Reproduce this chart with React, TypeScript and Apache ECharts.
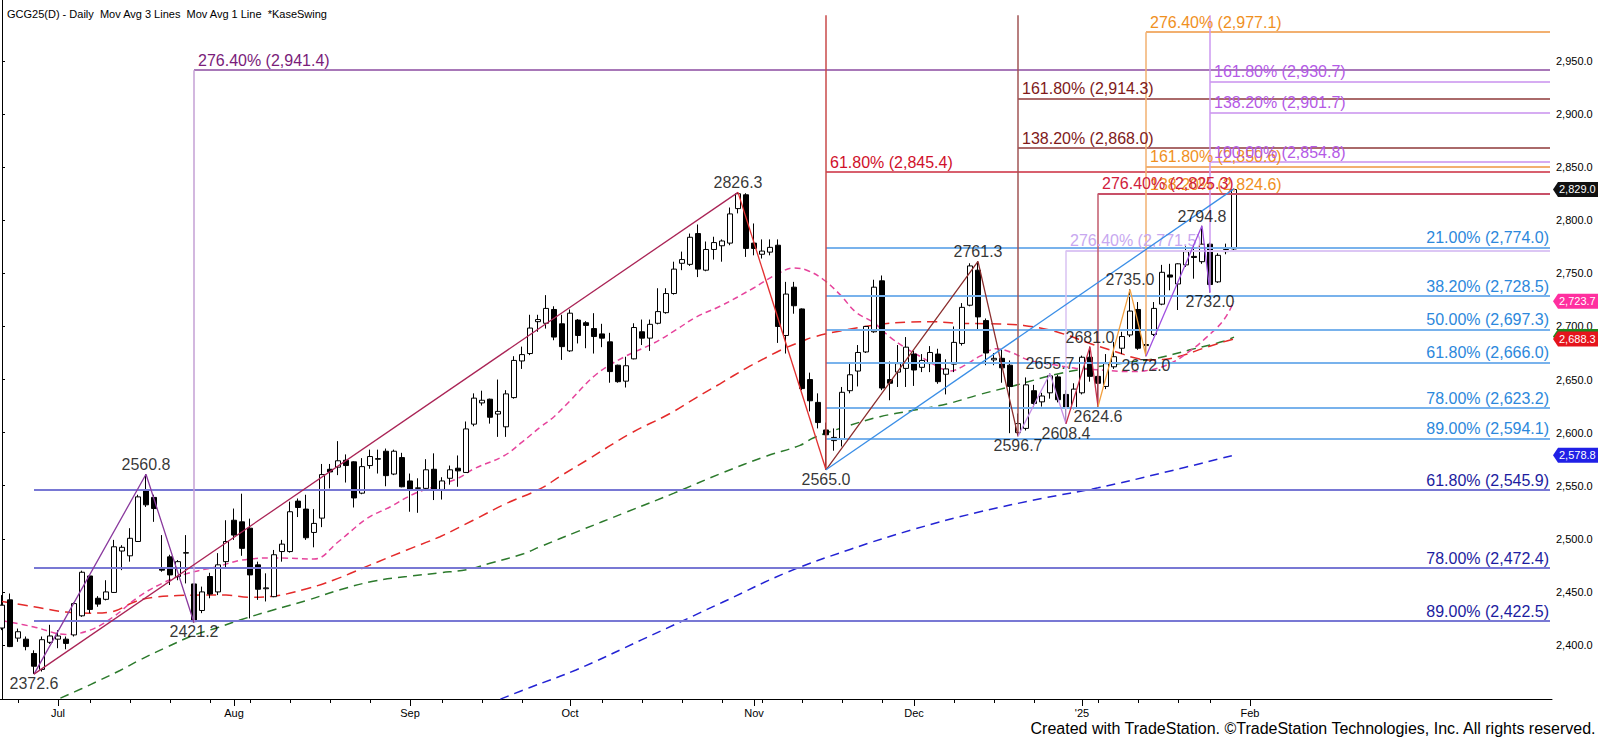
import React, { useEffect, useRef } from "react";
import * as echarts from "echarts";

const FONT = "Arial, 'Liberation Sans', Helvetica, sans-serif";

// ---- axis ticks / labels (bar index of each session, 20 Jun 2024 = 0) ----
const monthTickBars = [7, 29, 51, 71, 94, 114, 135, 156];
const monthTickLabels = ["Jul", "Aug", "Sep", "Oct", "Nov", "Dec", "'25", "Feb"];
const weekTickBars = [2, 11, 16, 21, 26, 31, 36, 41, 46, 55, 60, 65, 75, 80, 85, 90, 95, 100, 105, 110, 119, 124, 129, 137, 142, 147, 151];
const priceTicks = [2400, 2450, 2500, 2550, 2600, 2650, 2700, 2750, 2800, 2850, 2900, 2950];

// ---- daily bars [open, close, low, high] ----
const bars: number[][] = [
  [2416, 2437.5, 2414, 2447], [2442.5, 2398.5, 2398, 2448.5], [2406.5, 2412.5, 2403, 2415.5], [2405.5, 2398.5, 2395, 2408],
  [2392, 2380, 2372.6, 2395], [2377, 2405, 2375, 2408], [2402.5, 2408.5, 2401, 2419], [2405.5, 2408.5, 2397, 2414],
  [2405.5, 2401.5, 2396, 2408], [2409.5, 2439, 2408, 2440], [2427.5, 2468.5, 2426.5, 2470], [2465, 2433.5, 2430, 2466],
  [2444, 2438.5, 2436, 2446], [2443, 2450, 2442, 2461], [2449.5, 2492.5, 2449, 2499], [2488.5, 2492, 2470.5, 2494],
  [2484, 2500.5, 2478.5, 2510], [2497.5, 2539.5, 2497, 2541.5], [2545.5, 2532, 2530, 2560.8], [2539, 2528.5, 2516, 2541.5],
  [2471.5, 2470.5, 2469, 2503.5], [2483, 2466, 2456.5, 2485], [2464.5, 2478.5, 2461, 2480], [2486.5, 2487, 2458, 2503.5],
  [2457.5, 2422, 2421.2, 2458], [2432.5, 2450, 2430, 2455], [2464.5, 2448, 2444, 2468], [2450, 2475.5, 2447, 2486.5],
  [2478.5, 2497.5, 2472, 2517.5], [2517.5, 2503.5, 2499, 2528.5], [2516, 2491, 2484, 2542.5], [2510, 2466, 2425, 2519],
  [2475.5, 2452.5, 2442.5, 2478.5], [2453, 2453.8, 2441, 2467.5], [2445.5, 2485, 2445, 2489.5], [2488, 2495, 2478.5, 2499],
  [2488, 2525.5, 2487, 2535], [2535.5, 2529.5, 2520.5, 2538], [2528, 2501, 2499, 2541.5], [2506, 2514.5, 2492, 2528],
  [2519.5, 2560.5, 2511, 2570.5], [2565.5, 2563, 2547.5, 2570.5], [2567.5, 2573.5, 2560, 2592], [2574, 2569, 2553, 2579.5],
  [2572.5, 2538.5, 2529.5, 2573], [2543, 2568, 2542, 2576], [2569, 2577.5, 2566, 2584], [2575.5, 2575, 2561.5, 2584],
  [2582.5, 2559.5, 2549.5, 2585], [2561, 2582.5, 2560, 2584], [2576.5, 2549, 2548.5, 2581], [2554.5, 2545.5, 2525.5, 2561.5],
  [2547.5, 2548, 2524.5, 2557], [2547.5, 2565, 2546.5, 2575], [2565.5, 2545.5, 2536.5, 2580.5], [2546.5, 2554.5, 2537, 2558],
  [2557, 2565, 2551, 2569], [2566.5, 2564, 2549, 2578.5], [2562.5, 2603.5, 2562, 2610.5], [2608, 2632.5, 2606, 2637],
  [2628, 2630.5, 2625.5, 2639.5], [2631.5, 2614.5, 2608.5, 2632], [2617.5, 2620, 2596, 2650], [2605.5, 2636.5, 2596, 2640],
  [2633, 2668, 2632, 2672], [2667.5, 2673.5, 2660, 2681], [2674.5, 2698.5, 2673, 2711], [2704.5, 2706.5, 2695, 2711],
  [2703, 2717, 2698, 2729.5], [2716, 2690, 2687, 2719], [2702.5, 2681, 2668.5, 2711], [2677, 2712.5, 2676, 2716],
  [2706, 2691.5, 2684, 2707], [2703.5, 2701, 2679.5, 2705], [2698, 2690.5, 2674.5, 2712.5], [2693, 2689, 2680.5, 2702.5],
  [2685.5, 2657.5, 2647, 2694], [2663.5, 2648, 2647, 2664], [2648.5, 2663, 2642.5, 2671.5], [2669.5, 2699, 2669, 2703],
  [2695, 2689, 2682.5, 2706.5], [2689, 2702, 2677, 2706.5], [2703, 2714, 2702, 2736], [2713, 2731, 2712, 2736],
  [2731, 2754, 2730, 2761], [2759.5, 2763, 2753, 2770.5], [2758.5, 2784, 2757, 2787.5], [2787.5, 2754, 2746.5, 2796],
  [2753, 2772.5, 2752, 2780], [2772.5, 2779, 2763, 2784.5], [2776, 2780.5, 2761, 2782], [2778.5, 2806, 2776.5, 2812],
  [2811, 2825, 2806.5, 2826.3], [2824, 2773.5, 2765.5, 2825.5], [2778.5, 2773.5, 2767, 2797], [2768, 2771, 2764, 2782],
  [2770, 2774.5, 2767, 2782], [2776.5, 2700, 2684.5, 2782], [2691.5, 2730.5, 2674.5, 2742], [2737, 2719.5, 2712, 2742],
  [2716.5, 2641.5, 2640, 2717], [2650, 2630, 2620, 2656.5], [2628.5, 2609.5, 2604, 2637], [2602.5, 2598, 2565, 2609.5],
  [2592.5, 2595.5, 2583, 2604], [2594, 2638, 2587, 2643], [2639.5, 2654.5, 2637, 2666.5], [2658, 2675.5, 2643.5, 2682.5],
  [2676, 2700, 2675, 2700.5], [2695, 2737, 2694, 2744], [2743, 2642, 2640, 2748], [2650, 2646.5, 2630.5, 2667],
  [2657, 2665, 2643, 2682.5], [2660.5, 2680.5, 2643, 2690], [2674, 2659, 2644, 2677], [2661.5, 2668, 2657, 2674],
  [2665, 2675.5, 2657, 2681.5], [2674, 2648, 2646, 2679], [2655, 2660, 2636, 2669], [2664.5, 2685, 2657, 2700],
  [2684, 2718, 2682, 2722], [2720, 2757, 2719, 2759.5], [2753, 2709, 2697, 2761.3], [2705.5, 2675, 2663.5, 2707.5],
  [2668.5, 2670, 2663.5, 2675], [2670, 2661, 2647, 2678], [2663.5, 2643.5, 2599.5, 2668], [2600, 2608.5, 2596.7, 2618],
  [2604, 2645, 2602, 2652], [2639.5, 2627.5, 2624, 2645], [2629, 2634.5, 2624.5, 2637.5], [2637.5, 2653.5, 2632, 2655.7],
  [2652.5, 2631, 2628.5, 2654.5], [2636, 2623, 2608.4, 2640], [2623, 2641, 2622, 2646.5], [2637.5, 2671, 2636, 2672.5],
  [2671, 2653, 2648, 2681], [2653, 2646.5, 2624.6, 2660], [2643.5, 2665, 2641, 2674], [2662, 2671.5, 2660, 2685.5],
  [2679.5, 2690.5, 2674, 2695], [2692, 2714.5, 2690, 2735], [2716, 2679.5, 2678, 2723], [2682, 2683, 2672, 2697],
  [2692.5, 2717, 2691, 2723], [2721, 2751, 2720, 2758], [2748.5, 2746.5, 2734, 2759], [2740, 2759, 2715.5, 2759.5],
  [2758, 2770.5, 2756, 2775.5], [2766, 2765, 2745, 2777], [2761, 2777.5, 2759, 2794.8], [2777.5, 2739.5, 2732, 2779],
  [2742, 2767, 2741, 2769], [2770.5, 2772.5, 2768, 2778], [2773, 2829, 2771, 2829.6],
];

// ---- moving averages [bar, value] ----
const ma20 = [
  [0, 2423], [4, 2417], [8, 2410], [11, 2414], [14, 2427], [17, 2445], [20, 2458], [23, 2467], [27, 2474], [30, 2480],
  [34, 2482], [39, 2481], [42, 2497], [45.6, 2519], [48.5, 2530], [51.4, 2542], [54, 2549], [57, 2557], [59, 2566],
  [62.7, 2578], [65, 2591], [67.25, 2605], [69, 2615], [71, 2630], [74.3, 2655], [77.7, 2671], [81.4, 2684], [84.3, 2697],
  [86.8, 2709], [89.75, 2719], [93.9, 2736], [96.8, 2749], [99, 2755], [100.6, 2753], [102.7, 2744], [104.75, 2730],
  [106.8, 2713], [108.9, 2704], [111, 2690], [113.1, 2679], [115.2, 2670], [117.25, 2661], [118.5, 2658], [120, 2662],
  [122.25, 2672], [124.3, 2679], [126, 2676], [128.5, 2668], [131.8, 2663.5], [134.3, 2660.5], [137.25, 2659], [141, 2657.5],
  [143.1, 2658.5], [146, 2665], [148.5, 2677], [150.6, 2690], [152.7, 2706], [154, 2723.7],
];
const ma50 = [
  [0, 2441], [4, 2436], [8, 2431], [11, 2430], [13.5, 2431], [16.7, 2441], [19, 2445], [22, 2446.5], [25, 2447], [28, 2447],
  [31, 2445], [33.9, 2446], [38.1, 2453], [41.4, 2461], [45.6, 2474], [50.6, 2489.5], [54.75, 2502], [58.9, 2517.5],
  [63.1, 2533.5], [67.25, 2547], [70, 2560], [73.1, 2574], [78.5, 2599], [83.5, 2618], [86.8, 2633], [89.75, 2646],
  [93.1, 2661], [95.6, 2671], [97.7, 2679], [100, 2686], [101.4, 2690], [105.6, 2697], [109.75, 2702], [113.1, 2704],
  [116, 2704.5], [119.75, 2703], [123.5, 2702.5], [127.7, 2701], [131.8, 2695], [136, 2684], [139.3, 2676], [141.8, 2670],
  [143.5, 2668.5], [145.2, 2669], [147.7, 2673], [150.2, 2679.5], [152.7, 2685.5], [154, 2688.3],
];
const ma100 = [
  [7.3, 2350], [10, 2359], [12.25, 2367], [14.75, 2376], [17.25, 2386], [20.6, 2398], [23.9, 2409], [26.8, 2416],
  [29.75, 2423.5], [33.9, 2433], [38.1, 2442], [42.25, 2452], [46.4, 2460], [50.6, 2464.5], [54.75, 2468], [58.1, 2471],
  [61, 2477], [65.2, 2486], [67.25, 2492.5], [72, 2507], [78, 2525], [84, 2543], [90, 2562], [95.6, 2578], [99.75, 2588],
  [101.4, 2595], [105.6, 2606], [109.75, 2615], [113.9, 2621], [118.1, 2627], [122.25, 2636], [126.4, 2644], [131.8, 2655],
  [136, 2661], [140.2, 2665.5], [144.3, 2670], [148.5, 2678], [152.7, 2686], [154, 2690],
];
const ma200 = [
  [62.3, 2349], [66, 2360], [71.75, 2376.5], [80, 2405], [90, 2440], [98, 2468], [106, 2490], [114, 2509], [122, 2525],
  [130, 2538], [137, 2548], [145, 2562], [154, 2578.8],
];

// ---- swing points ----
const swingHighs = [[18, 2560.8], [92, 2826.3], [122, 2761.3], [131, 2655.7], [136, 2681.0], [141, 2735.0], [150, 2794.8]];
const swingLows = [[4, 2372.6], [24, 2421.2], [103, 2565.0], [127, 2596.7], [133, 2608.4], [137, 2624.6], [143, 2672.0], [151, 2732.0]];

// ---- swing legs ----
const legPurple = [[4, 2372.6], [18, 2560.8], [24, 2421.2]];
const legCrimsonLong = [[4, 2372.6], [92, 2826.3]];
const legRed = [[92, 2826.3], [103, 2565.0]];
const legMaroon = [[103, 2565.0], [122, 2761.3], [127, 2596.7]];
const legBlue = [[103, 2565.0], [154, 2829.6]];
const legLavender = [[127, 2596.7], [131, 2655.7], [133, 2608.4]];
const legCrimson = [[133, 2608.4], [136, 2681.0], [137, 2624.6]];
const legOrange = [[137, 2624.6], [141, 2735.0], [143, 2672.0]];
const legViolet = [[143, 2672.0], [150, 2794.8], [151, 2732.0]];

// ---- Fibonacci levels ----
const retrBlueLevels = [2774.0, 2728.5, 2697.3, 2666.0, 2623.2, 2594.1];
const retrBluePcts = ["21.00%", "38.20%", "50.00%", "61.80%", "78.00%", "89.00%"];
const retrNavyLevels = [2545.9, 2472.4, 2422.5];
const retrNavyPcts = ["61.80%", "78.00%", "89.00%"];
const projPurpleLevels = [2941.4];
const projPurplePcts = ["276.40%"];
const projRedLevels = [2845.4];
const projRedPcts = ["61.80%"];
const projMaroonLevels = [2868.0, 2914.3];
const projMaroonPcts = ["138.20%", "161.80%"];
const projLavenderLevels = [2771.5];
const projLavenderPcts = ["276.40%"];
const projCrimsonLevels = [2825.3];
const projCrimsonPcts = ["276.40%"];
const projOrangeLevels = [2824.6, 2850.6, 2977.1];
const projOrangePcts = ["138.20%", "161.80%", "276.40%"];
const projVioletLevels = [2854.8, 2901.7, 2930.7];
const projVioletPcts = ["100.00%", "138.20%", "161.80%"];

// ---- last-value flags on the price scale (green one sits mostly hidden behind red) ----
const flagValues = [2829.0, 2690.6, 2723.7, 2688.3, 2578.8];
const flagColors = ["#111111", "#1f8a1f", "#ff2f9f", "#e5141c", "#2020e6"];
const flagShowText = [true, false, true, true, true];

const X_MIN = -0.25;
const X_MAX = 193.75;
const Y_MIN = 2349.14;
const Y_MAX = 3007.46;
const LINE_END = 193.5;
const TOP_PRICE = 2993;

const fmt = (v: number) =>
  v.toLocaleString("en-US", { minimumFractionDigits: 1, maximumFractionDigits: 1 });

function hLines(start: number, levels: number[], pcts: string[], lineColor: string, textColor: string, side: "left" | "right") {
  return levels.map((lv, i) => [
    {
      coord: [start, lv],
      lineStyle: { color: lineColor, width: 2, type: "solid" },
      label: {
        show: true,
        position: side === "left" ? "insideStartTop" : "insideEndTop",
        formatter: `${pcts[i]} (${fmt(lv)})`,
        color: textColor,
        fontSize: 16,
        fontFamily: FONT,
        distance: side === "left" ? [4, 2] : [1, 2],
      },
    },
    { coord: [LINE_END, lv] },
  ]);
}
function vLine(bar: number, from: number, to: number, color: string) {
  return [
    { coord: [bar, from], lineStyle: { color, width: 1.5, type: "solid" }, label: { show: false } },
    { coord: [bar, to] },
  ];
}

function maSeries(data: number[][], color: string, dash: number[]) {
  return {
    type: "line",
    data,
    smooth: 0.4,
    symbol: "none",
    silent: true,
    lineStyle: { color, width: 1.5, type: dash },
    z: 2,
  };
}
function legSeries(data: number[][], color: string) {
  return {
    type: "line",
    data,
    symbol: "none",
    silent: true,
    lineStyle: { color, width: 1.3 },
    z: 5,
  };
}
function labelSeries(data: number[][], pos: "top" | "bottom") {
  return {
    type: "scatter",
    data,
    symbolSize: 1,
    silent: true,
    itemStyle: { color: "rgba(0,0,0,0)" },
    label: {
      show: true,
      position: pos,
      distance: 1,
      formatter: (p: any) => p.value[1].toFixed(1),
      color: "#000",
      fontSize: 16,
      fontFamily: FONT,
    },
    z: 6,
  };
}

export default function App() {
  const ref = useRef<HTMLDivElement>(null);
  useEffect(() => {
    document.body.style.margin = "0";
    const chart = echarts.init(ref.current as HTMLDivElement, null, { renderer: "svg" });

    const markData = [
      ...hLines(4, retrNavyLevels, retrNavyPcts, "#7878d4", "#1c1ca0", "right"),
      ...hLines(103, retrBlueLevels, retrBluePcts, "#78b2ec", "#2c88dc", "right"),
      ...hLines(24, projPurpleLevels, projPurplePcts, "#a878b8", "#7a1c7a", "left"),
      ...hLines(103, projRedLevels, projRedPcts, "#d8606e", "#d0102a", "left"),
      ...hLines(127, projMaroonLevels, projMaroonPcts, "#aa6a6a", "#801a1a", "left"),
      ...hLines(133, projLavenderLevels, projLavenderPcts, "#dcc6f4", "#c8a8f0", "left"),
      ...hLines(143, projOrangeLevels, projOrangePcts, "#f2b070", "#f0901e", "left"),
      ...hLines(137, projCrimsonLevels, projCrimsonPcts, "#c85068", "#d0203c", "left"),
      ...hLines(151, projVioletLevels, projVioletPcts, "#d6acf2", "#b45ae6", "left"),
      vLine(24, 2421.2, 2941.4, "#c4a0d4"),
      vLine(103, 2565.0, TOP_PRICE, "#c84a4a"),
      vLine(127, 2596.7, TOP_PRICE, "#a05454"),
      vLine(133, 2608.4, 2771.5, "#d8c2f2"),
      vLine(137, 2624.6, 2825.3, "#c25a6c"),
      vLine(143, 2672.0, 2977.1, "#f2b070"),
      vLine(151, 2732.0, TOP_PRICE, "#cc98f0"),
    ];

    const option: any = {
      animation: false,
      backgroundColor: "#ffffff",
      title: {
        text: "GCG25(D) - Daily  Mov Avg 3 Lines  Mov Avg 1 Line  *KaseSwing",
        left: 2,
        top: 3,
        textStyle: { fontSize: 11, fontWeight: "normal", color: "#000", fontFamily: FONT },
      },
      grid: { left: 0, right: 48, top: 0, bottom: 40, containLabel: false, outerBoundsMode: "none" },
      xAxis: [
        {
          type: "value",
          min: X_MIN,
          max: X_MAX,
          position: "bottom",
          splitLine: { show: false },
          axisLine: { show: true, onZero: false, lineStyle: { color: "#000", width: 1 } },
          axisTick: { show: true, customValues: weekTickBars, length: 4, lineStyle: { color: "#000" } },
          axisLabel: { show: false },
        },
        {
          type: "value",
          min: X_MIN,
          max: X_MAX,
          position: "bottom",
          splitLine: { show: false },
          axisLine: { show: false, onZero: false },
          axisTick: { show: true, customValues: monthTickBars, length: 7, lineStyle: { color: "#000" } },
          axisLabel: {
            show: true,
            customValues: monthTickBars,
            formatter: (v: number) => monthTickLabels[monthTickBars.indexOf(Math.round(v))] ?? "",
            color: "#000",
            fontSize: 11,
            fontFamily: FONT,
            margin: 8,
          },
        },
      ],
      yAxis: {
        type: "value",
        position: "right",
        min: Y_MIN,
        max: Y_MAX,
        scale: true,
        splitLine: { show: false },
        axisLine: { show: true, lineStyle: { color: "#000", width: 1 } },
        axisTick: { show: true, customValues: priceTicks, length: 3, lineStyle: { color: "#000" } },
        axisLabel: {
          show: true,
          customValues: priceTicks,
          formatter: (v: number) => fmt(v),
          color: "#000",
          fontSize: 11,
          fontFamily: FONT,
          margin: 4,
        },
      },
      series: [
        maSeries(ma200, "#2323d4", [9, 6]),
        maSeries(ma100, "#2c7a2c", [9, 6]),
        maSeries(ma50, "#e42a2a", [10, 6]),
        maSeries(ma20, "#e6449c", [6, 4]),
        {
          type: "candlestick",
          data: bars.map((b, i) => [i, b[0], b[1], b[2], b[3]]),
          encode: { x: 0, y: [1, 2, 3, 4] },
          barWidth: 6,
          silent: true,
          itemStyle: {
            color: "#ffffff",
            color0: "#000000",
            borderColor: "#000000",
            borderColor0: "#000000",
            borderWidth: 1,
          },
          z: 3,
        },
        {
          type: "line",
          data: [[X_MIN, Y_MIN]],
          symbol: "none",
          silent: true,
          lineStyle: { opacity: 0 },
          z: 4,
          markLine: {
            silent: true,
            animation: false,
            symbol: ["none", "none"],
            data: markData,
          },
        },
        legSeries(legPurple, "#8a3a9e"),
        legSeries(legCrimsonLong, "#aa2456"),
        legSeries(legRed, "#e23030"),
        legSeries(legMaroon, "#8b2e2e"),
        legSeries(legBlue, "#3a8ee6"),
        legSeries(legLavender, "#c48ee6"),
        legSeries(legCrimson, "#c8304c"),
        legSeries(legOrange, "#f2a040"),
        legSeries(legViolet, "#a050e0"),
        labelSeries(swingHighs, "top"),
        labelSeries(swingLows, "bottom"),
      ],
    };
    chart.setOption(option);

    const xEnd = chart.convertToPixel({ xAxisIndex: 0 }, X_MAX) as number;
    const flags = flagValues.map((v, i) => {
      const y = chart.convertToPixel({ yAxisIndex: 0 }, v) as number;
      const children: any[] = [
        {
          type: "polygon",
          z: 100,
          shape: {
            points: [
              [xEnd + 1, y],
              [xEnd + 6, y - 7.5],
              [xEnd + 46, y - 7.5],
              [xEnd + 46, y + 7.5],
              [xEnd + 6, y + 7.5],
            ],
          },
          style: { fill: flagColors[i] },
        },
      ];
      if (flagShowText[i]) {
        children.push({
          type: "text",
          z: 101,
          x: xEnd + 7,
          y,
          style: {
            text: fmt(v),
            fill: "#ffffff",
            fontSize: 11,
            fontFamily: FONT,
            verticalAlign: "middle",
            textAlign: "left",
          },
        });
      }
      return { type: "group", z: 100, children };
    });
    chart.setOption({
      graphic: [
        ...flags,
        {
          type: "text",
          right: 3,
          bottom: 3,
          z: 100,
          style: {
            text: "Created with TradeStation. ©TradeStation Technologies, Inc. All rights reserved.",
            fill: "#000",
            fontSize: 16,
            fontFamily: FONT,
          },
        },
      ],
    });

    return () => chart.dispose();
  }, []);
  return <div ref={ref} style={{ position: "absolute", left: 0, top: 0, width: 1600, height: 739 }} />;
}
